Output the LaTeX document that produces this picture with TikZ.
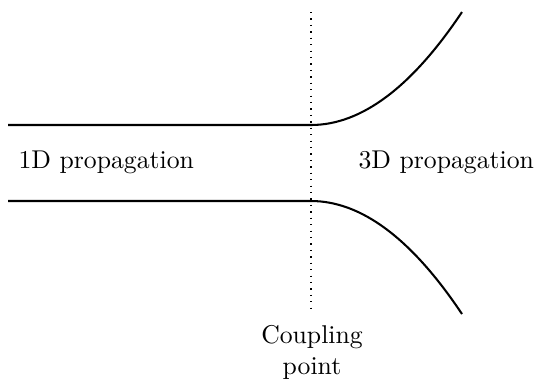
\documentclass[tikz,border=0pt]{standalone}
\begin{document}
\begin{tikzpicture}[x=0.389pt,y=-0.389pt,
  wall/.style={line width=0.8pt},
  lbl/.style={inner sep=0pt,font=\normalsize}]
\useasboundingbox (0,0) rectangle (540,378);
% key points
\coordinate (tl) at (8,125);
\coordinate (bl) at (8,201);
\coordinate (tc) at (311,125);
\coordinate (bc) at (311,201);
\coordinate (te) at (462,12);
\coordinate (be) at (462,314);
\coordinate (dtop) at (311,12);
\coordinate (dbot) at (311,311);
% walls
\draw[wall] (tl) -- (tc) .. controls (361.3,125) and (411.7,87.3) .. (te);
\draw[wall] (bl) -- (bc) .. controls (361.3,201) and (411.7,238.7) .. (be);
% coupling line
\draw[dotted,line width=0.5pt] (dtop) -- (dbot);
% labels
\node[lbl,anchor=base west] (l1) at (18,168.5) {1D propagation};
\node[lbl,anchor=base west] (l3) at (358,168.5) {3D propagation};
\node[lbl,anchor=north,align=center] (cp) at (312,325) {Coupling\\point};
\end{tikzpicture}
\end{document}
